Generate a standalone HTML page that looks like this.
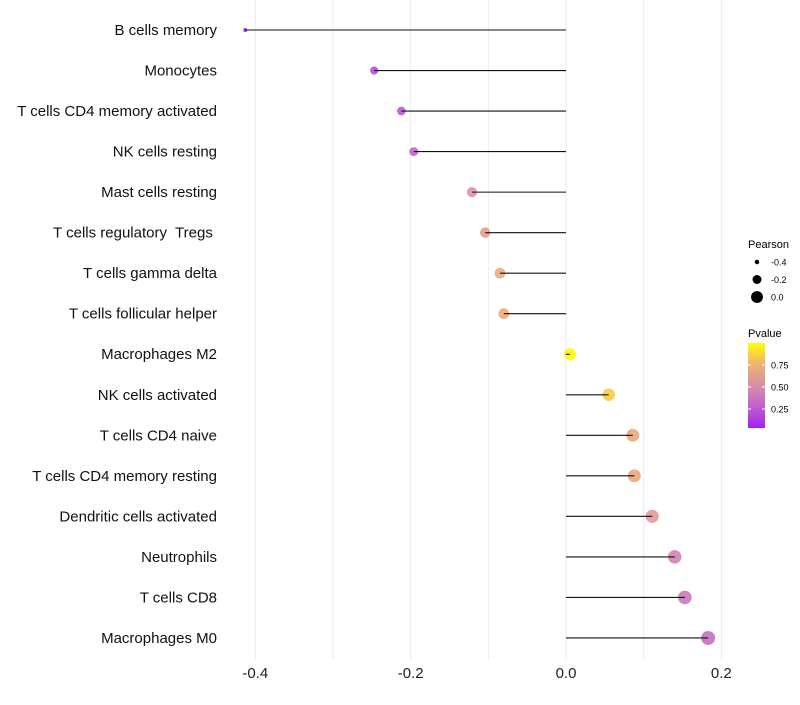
<!DOCTYPE html>
<html><head><meta charset="utf-8"><style>
body{margin:0;background:#fff;font-family:"Liberation Sans",sans-serif}
#labels text{white-space:pre}
</style></head><body>
<svg id="c" width="800" height="700" xmlns="http://www.w3.org/2000/svg">
<defs><linearGradient id="pg" x1="0" y1="1" x2="0" y2="0">
<stop offset="0" stop-color="#a020f0"/><stop offset="0.25" stop-color="#c060d0"/><stop offset="0.5" stop-color="#d890a8"/><stop offset="0.75" stop-color="#f0b070"/><stop offset="1" stop-color="#ffff00"/></linearGradient></defs>
<g id="grid"></g>
<g id="marks"></g>
<g id="labels"></g>
<g id="xt"></g>
<g font-size="10" fill="#000">
<text x="748" y="248" font-size="11">Pearson</text>
<g id="sizeLeg"></g>
<text x="748" y="337" font-size="11">Pvalue</text>
<rect x="748" y="343" width="17" height="85" fill="url(#pg)"/>
<g id="colLeg"></g>
</g>
</svg>
<script>
const categories=["B cells memory","Monocytes","T cells CD4 memory activated","NK cells resting","Mast cells resting","T cells regulatory  Tregs ","T cells gamma delta","T cells follicular helper","Macrophages M2","NK cells activated","T cells CD4 naive","T cells CD4 memory resting","Dendritic cells activated","Neutrophils","T cells CD8","Macrophages M0"];
const pearson=[-0.413,-0.247,-0.212,-0.196,-0.121,-0.104,-0.085,-0.080,0.005,0.055,0.086,0.088,0.111,0.140,0.153,0.183];
const pvalue=[0.03,0.2,0.25,0.3,0.55,0.62,0.72,0.73,0.98,0.85,0.7,0.7,0.6,0.45,0.4,0.35];
const xTicks=[-0.4,-0.2,0.0,0.2];
const xTickLabels=["-0.4","-0.2","0.0","0.2"];
const sizeLegendVals=[-0.4,-0.2,0.0];
const colorLegendVals=[0.25,0.5,0.75];
const NS="http://www.w3.org/2000/svg";
const X=v=>566+v*776.7;
const Y=i=>30+i*40.53;
const R=p=>Math.sqrt(Math.max(4,35.2+75.5*p));
const stops=[[0,[160,32,240]],[0.25,[192,96,208]],[0.5,[216,144,168]],[0.75,[240,176,112]],[1,[255,255,0]]];
function col(p){const t=Math.min(1,Math.max(0,(p-0.034)/(1-0.034)));for(let k=1;k<stops.length;k++){if(t<=stops[k][0]){const a=stops[k-1],b=stops[k],f=(t-a[0])/(b[0]-a[0]);return "rgb("+a[1].map((c,j)=>Math.round(c+(b[1][j]-c)*f)).join(",")+")";}}return "rgb(255,255,0)";}
function mk(t,at,par){const e=document.createElementNS(NS,t);for(const k in at)e.setAttribute(k,at[k]);document.getElementById(par).appendChild(e);return e;}
for(let v=-0.4;v<=0.2001;v+=0.1){const g=mk('line',{x1:X(v),x2:X(v),y1:0,y2:660,stroke:'#ebebeb','stroke-width':1},'grid');

}
categories.forEach((c,i)=>{
const p=mk('circle',{cx:X(pearson[i]),cy:Y(i),r:R(pearson[i]),fill:col(pvalue[i]),'fill-opacity':0.9},'marks');


const l=mk('line',{x1:X(pearson[i]),x2:X(0),y1:Y(i),y2:Y(i),stroke:'#111','stroke-width':1.1},'marks');


const t=mk('text',{x:217,y:Y(i)+5,'text-anchor':'end','font-size':15,fill:'#111'},'labels');
t.textContent=c;


});
xTicks.forEach((v,i)=>{const t=mk('text',{x:X(v),y:678,'text-anchor':'middle','font-size':15,fill:'#222'},'xt');t.textContent=xTickLabels[i];

});
sizeLegendVals.forEach((v,i)=>{const y=262+i*17.5;const c=mk('circle',{cx:757,cy:y,r:R(v),fill:'#000'},'sizeLeg');


const t=mk('text',{x:771,y:y+3.5,'font-size':9},'sizeLeg');t.textContent=v===0?"0.0":v.toFixed(1);

});
colorLegendVals.forEach(v=>{const y=343+(1.0-v)*88;const l=mk('line',{x1:748,x2:751,y1:y,y2:y,stroke:'#fff'},'colLeg');


const l2=mk('line',{x1:762,x2:765,y1:y,y2:y,stroke:'#fff'},'colLeg');


const t=mk('text',{x:771,y:y+3.5,'font-size':9},'colLeg');t.textContent=v.toFixed(2);

});
</script>
</body></html>
